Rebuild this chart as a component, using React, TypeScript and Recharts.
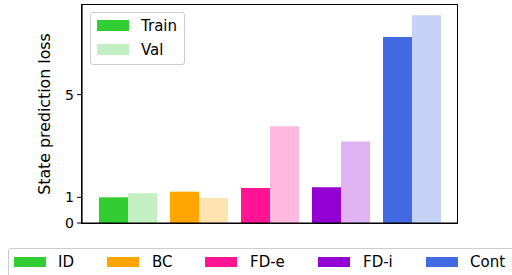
import React from 'react';
import { BarChart, Bar, XAxis, YAxis, Cell } from 'recharts';

const categories = ['ID', 'BC', 'FD-e', 'FD-i', 'Cont'];
const trainValues = [1.0, 1.22, 1.36, 1.39, 7.24];
const valValues = [1.16, 0.98, 3.77, 3.17, 8.09];
const yTicks = [0, 1, 5];
const seriesNames = ['Train', 'Val'];

const trainColors = ['#32cd32', '#ffa500', '#ff1493', '#9400d3', '#4169e1'];
const valColors = ['#c2f0c2', '#ffe4b2', '#ffb9de', '#dfb3f2', '#c6d2f6'];

const data = categories.map((c, i) => ({ cat: c, train: trainValues[i], val: valValues[i] }));

const FONT = '"DejaVu Sans", sans-serif';

const bottomLegendPos = [
  { patch: 14, text: 58 },
  { patch: 107, text: 152 },
  { patch: 205, text: 250 },
  { patch: 318, text: 363 },
  { patch: 426, text: 470 },
];

export default function App() {
  return (
    <div style={{ position: 'absolute', left: 0, top: 0, width: 512, height: 275, overflow: 'hidden', background: '#fff', fontFamily: FONT }}>
      <BarChart
        width={512}
        height={275}
        data={data}
        margin={{ top: 5, right: 55, bottom: 51, left: 0 }}
        barCategoryGap={7}
        barGap={0}
      >
        <XAxis
          dataKey="cat"
          tick={false}
          tickLine={false}
          height={1}
          padding={{ left: 10, right: 10 }}
          axisLine={{ stroke: '#000', strokeWidth: 1.2 }}
        />
        <YAxis
          domain={[0, 8.49]}
          ticks={yTicks}
          width={82}
          tickSize={5}
          tickMargin={3}
          tickLine={{ stroke: '#000' }}
          axisLine={{ stroke: '#000', strokeWidth: 1.2 }}
          tick={{ fill: '#000', fontSize: 14, fontFamily: FONT }}
          label={() => (
            <text
              x={49.6}
              y={114}
              transform="rotate(-90 49.6 114)"
              textAnchor="middle"
              fontSize={15.8}
              fontFamily={FONT}
              fill="#000"
            >
              State prediction loss
            </text>
          )}
        />
        <Bar dataKey="train" isAnimationActive={false}>
          {data.map((d, i) => (
            <Cell key={d.cat} fill={trainColors[i]} />
          ))}
        </Bar>
        <Bar dataKey="val" isAnimationActive={false}>
          {data.map((d, i) => (
            <Cell key={d.cat} fill={valColors[i]} />
          ))}
        </Bar>
      </BarChart>

      {/* axes frame */}
      <div style={{ position: 'absolute', left: 81.4, top: 4.4, width: 376.2, height: 219.2, border: '1.2px solid #000', boxSizing: 'border-box', pointerEvents: 'none' }} />

      {/* inner legend */}
      <div style={{ position: 'absolute', left: 89.5, top: 12, width: 95, height: 53, border: '1px solid #cccccc', borderRadius: 3, background: 'rgba(255,255,255,0.8)', boxSizing: 'border-box' }} />
      {seriesNames.map((s, i) => (
        <React.Fragment key={s}>
          <div style={{ position: 'absolute', left: 97, top: 20.3 + i * 23.7, width: 31.5, height: 11, background: i === 0 ? trainColors[0] : valColors[0] }} />
          <div style={{ position: 'absolute', left: 141, top: 17 + i * 23.7, fontSize: 15, lineHeight: '18px', color: '#000' }}>{s}</div>
        </React.Fragment>
      ))}

      {/* bottom legend */}
      <div style={{ position: 'absolute', left: 8, top: 248, width: 530, height: 40, border: '1px solid #cccccc', borderRadius: 3, background: '#fff' }} />
      {categories.map((c, i) => (
        <React.Fragment key={c}>
          <div style={{ position: 'absolute', left: bottomLegendPos[i].patch, top: 256.7, width: 31.5, height: 10.7, background: trainColors[i] }} />
          <div style={{ position: 'absolute', left: bottomLegendPos[i].text, top: 253, fontSize: 15, lineHeight: '18px', color: '#000' }}>{c}</div>
        </React.Fragment>
      ))}
    </div>
  );
}
